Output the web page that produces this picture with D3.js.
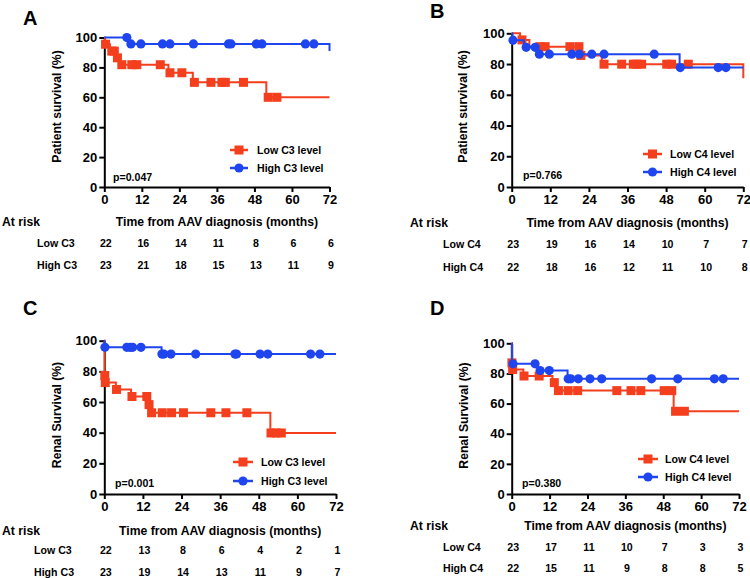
<!DOCTYPE html>
<html><head><meta charset="utf-8">
<script src="https://cdn.jsdelivr.net/npm/d3@7/dist/d3.min.js"></script>
<style>
body{margin:0;background:#fff}
svg{display:block}
text{font-family:"Liberation Sans",Arial,Helvetica,sans-serif;font-weight:bold;fill:#000}
</style>
</head><body><svg id="c" width="750" height="578"></svg>
<script>
// ---------- tick labels ----------
const xTicks = [0, 12, 24, 36, 48, 60, 72];
const yTicks = [0, 20, 40, 60, 80, 100];
const riskTimes = [0, 12, 24, 36, 48, 60, 72];

// ---------- Panel A: patient survival by C3 ----------
const aLowSteps  = [[0,100],[0.2,95.5],[1.8,90.9],[3.6,86.4],[5.0,81.8],[20.5,76.4],[28.3,70.0],[51.8,60.0]];
const aLowCens   = [0.4,2.4,3.2,4.2,5.6,8.8,10.4,17.9,21.0,24.8,28.8,34.1,37.6,38.7,44.5,52.4,55.2];
const aHighSteps = [[0,100],[7.7,95.7],[72,91.0]];
const aHighCens  = [7.2,8.5,11.7,18.6,21.0,28.5,39.7,40.5,48.6,50.4,64.3,67.0];
const aRiskLow   = [22,16,14,11,8,6,6];
const aRiskHigh  = [23,21,18,15,13,11,9];

// ---------- Panel B: patient survival by C4 ----------
const bLowSteps  = [[0,100],[2.6,95.7],[5.5,91.3],[21.2,85.6],[28.0,79.9],[72,70.8]];
const bLowCens   = [3.2,8.8,10.4,18.1,20.9,21.5,28.7,34.2,37.8,38.9,40.4,48.2,49.7,54.9];
const bHighSteps = [[0,100],[0.2,95.5],[3.8,90.9],[7.8,86.4],[52.2,77.7]];
const bHighCens  = [0.4,4.5,7.3,8.6,11.7,18.7,21.0,24.9,28.7,44.3,52.4,64.2,66.6];
const bRiskLow   = [23,19,16,14,10,7,7];
const bRiskHigh  = [22,18,16,12,11,10,8];

// ---------- Panel C: renal survival by C3 ----------
const cLowSteps  = [[0,100],[0.1,77.3],[0.2,72.7],[3.6,68.2],[8.3,63.6],[13.5,58.3],[14.3,53.0],[51.6,39.8]];
const cLowCens   = [0.15,0.3,3.8,8.6,13.2,13.9,14.7,18.0,20.9,24.6,33.1,37.8,44.3,51.8,53.4,55.0];
const cHighSteps = [[0,100],[0.05,95.7],[17.8,91.3]];
const cHighCens  = [0.2,7.0,8.0,8.8,11.4,17.9,18.5,20.7,28.4,40.6,41.1,48.4,50.8,64.1,67.0];
const cRiskLow   = [22,13,8,6,4,2,1];
const cRiskHigh  = [23,19,14,13,11,9,7];

// ---------- Panel D: renal survival by C4 ----------
const dLowSteps  = [[0,100],[0.05,87.0],[0.1,82.6],[3.7,78.3],[12.9,73.9],[14.2,68.6],[51.3,54.9]];
const dLowCens   = [0.07,0.3,3.9,8.7,13.5,14.8,17.9,20.9,33.3,37.8,40.9,48.3,50.7,51.9,54.7];
const dHighSteps = [[0,100],[0.05,86.4],[8.2,81.9],[17.7,76.4]];
const dHighCens  = [0.4,7.4,9.0,11.9,17.9,18.7,21.1,24.8,28.5,44.3,52.6,64.2,67.0];
const dRiskLow   = [23,17,11,10,7,3,3];
const dRiskHigh  = [22,15,11,9,8,8,5];

const RED = "#F43F1E", BLUE = "#1F46EE";

const panels = [
  {letter:"A", lx:23, ly:25, x0:104.3, x1:329.5, yT:37.5, yB:187, yTitle:"Patient survival (%)", ylx:57, yly:106.5,
   legX0:230, legX1:248, legY:[150,168], legTX:257, lowName:"Low C3", highName:"High C3", p:"p=0.047", px:113, py:177,
   arX:2, arY:222, rowLX:37, rowY:[243,265],
   low:{steps:aLowSteps,cens:aLowCens,risk:aRiskLow}, high:{steps:aHighSteps,cens:aHighCens,risk:aRiskHigh}},
  {letter:"B", lx:430, ly:18, x0:511.7, x1:743.3, yT:33.3, yB:187, yTitle:"Patient survival (%)", ylx:463, yly:106.5,
   legX0:643, legX1:662, legY:[154,172], legTX:670, lowName:"Low C4", highName:"High C4", p:"p=0.766", px:523, py:175,
   arX:410, arY:223, rowLX:443, rowY:[244,267],
   low:{steps:bLowSteps,cens:bLowCens,risk:bRiskLow}, high:{steps:bHighSteps,cens:bHighCens,risk:bRiskHigh}},
  {letter:"C", lx:23, ly:315, x0:104.3, x1:336, yT:340.7, yB:494, yTitle:"Renal Survival (%)", ylx:57, yly:415,
   legX0:233, legX1:253, legY:[462,481], legTX:261, lowName:"Low C3", highName:"High C3", p:"p=0.001", px:115, py:483,
   arX:2, arY:531, rowLX:34, rowY:[550,572],
   low:{steps:cLowSteps,cens:cLowCens,risk:cRiskLow}, high:{steps:cHighSteps,cens:cHighCens,risk:cRiskHigh}},
  {letter:"D", lx:430, ly:315, x0:511.7, x1:739, yT:343.3, yB:494, yTitle:"Renal Survival (%)", ylx:464, yly:415.5,
   legX0:638, legX1:658, legY:[459,477], legTX:665, lowName:"Low C4", highName:"High C4", p:"p=0.380", px:522, py:483,
   arX:410, arY:526, rowLX:443, rowY:[547,568],
   low:{steps:dLowSteps,cens:dLowCens,risk:dRiskLow}, high:{steps:dHighSteps,cens:dHighCens,risk:dRiskHigh}}
];

const svg = d3.select("#c");

function survAt(steps, t){
  let s = steps[0][1];
  for (const [tt, ss] of steps){ if (tt <= t) s = ss; }
  return s;
}

function drawSeries(g, x, y, ser, color, shape){
  const pts = ser.steps.slice();
  const last = pts[pts.length-1];
  if (last[0] < 72) pts.push([72, last[1]]);
  const line = d3.line().x(d=>x(d[0])).y(d=>y(d[1])).curve(d3.curveStepAfter);
  g.append("path").attr("d", line(pts)).attr("fill","none").attr("stroke",color).attr("stroke-width",2);
  const cg = g.append("g").attr("fill", color);
  ser.cens.forEach(t=>{
    const cx = x(t), cy = y(survAt(ser.steps, t));
    if (shape === "square") cg.append("rect").attr("x",cx-4.5).attr("y",cy-4.5).attr("width",9).attr("height",9);
    else cg.append("circle").attr("cx",cx).attr("cy",cy).attr("r",4.6);
  });
}

panels.forEach(P=>{
  const g = svg.append("g");
  const x = d3.scaleLinear().domain([0,72]).range([P.x0,P.x1]);
  const y = d3.scaleLinear().domain([0,100]).range([P.yB,P.yT]);

  g.append("text").attr("x",P.lx).attr("y",P.ly).attr("font-size",20).text(P.letter);

  // axes
  const xa = g.append("g").attr("transform",`translate(0,${P.yB})`)
    .call(d3.axisBottom(x).tickValues(xTicks).tickSize(5).tickPadding(3).tickSizeOuter(0));
  const ya = g.append("g").attr("transform",`translate(${P.x0},0)`)
    .call(d3.axisLeft(y).tickValues(yTicks).tickSize(5).tickPadding(2).tickSizeOuter(0));
  [xa,ya].forEach(a=>{
    a.select(".domain").attr("stroke","#000").attr("stroke-width",2);
    a.selectAll(".tick line").attr("stroke","#000").attr("stroke-width",2);
    a.selectAll(".tick text").attr("font-size",13).attr("font-family",null).style("fill","#000");
    a.attr("font-family",null);
  });

  g.append("text").attr("transform",`translate(${P.ylx},${P.yly}) rotate(-90)`)
    .attr("text-anchor","middle").attr("dominant-baseline","central").attr("font-size",12.2).text(P.yTitle);

  drawSeries(g, x, y, P.low, RED, "square");
  drawSeries(g, x, y, P.high, BLUE, "circle");

  // legend
  const lg = g.append("g");
  [[P.lowName+" level", RED, "square"],[P.highName+" level", BLUE, "circle"]].forEach((d,i)=>{
    const ly = P.legY[i];
    lg.append("line").attr("x1",P.legX0).attr("x2",P.legX1).attr("y1",ly).attr("y2",ly).attr("stroke",d[1]).attr("stroke-width",2.5);
    const mx = (P.legX0+P.legX1)/2;
    if (d[2]==="square") lg.append("rect").attr("x",mx-4.5).attr("y",ly-4.5).attr("width",9).attr("height",9).attr("fill",d[1]);
    else lg.append("circle").attr("cx",mx).attr("cy",ly).attr("r",4.6).attr("fill",d[1]);
    lg.append("text").attr("x",P.legTX).attr("y",ly).attr("dominant-baseline","central").attr("font-size",10.6).text(d[0]);
  });
  g.append("text").attr("x",P.px).attr("y",P.py).attr("dominant-baseline","central").attr("font-size",10.6).text(P.p);

  // at risk table
  g.append("text").attr("x",P.arX).attr("y",P.arY).attr("dominant-baseline","central").attr("font-size",12.2).text("At risk");
  g.append("text").attr("x",(P.x0+P.x1)/2).attr("y",P.arY).attr("text-anchor","middle").attr("dominant-baseline","central")
    .attr("font-size",12.2).text("Time from AAV diagnosis (months)");
  [[P.lowName, P.low.risk],[P.highName, P.high.risk]].forEach((r,i)=>{
    const ry = P.rowY[i];
    g.append("text").attr("x",P.rowLX).attr("y",ry).attr("dominant-baseline","central").attr("font-size",10.6).text(r[0]);
    r[1].forEach((v,j)=>{
      g.append("text").attr("x",x(riskTimes[j])+1.5).attr("y",ry).attr("text-anchor","middle").attr("dominant-baseline","central")
        .attr("font-size",10.6).text(v);
    });
  });
});
</script>
</body></html>
